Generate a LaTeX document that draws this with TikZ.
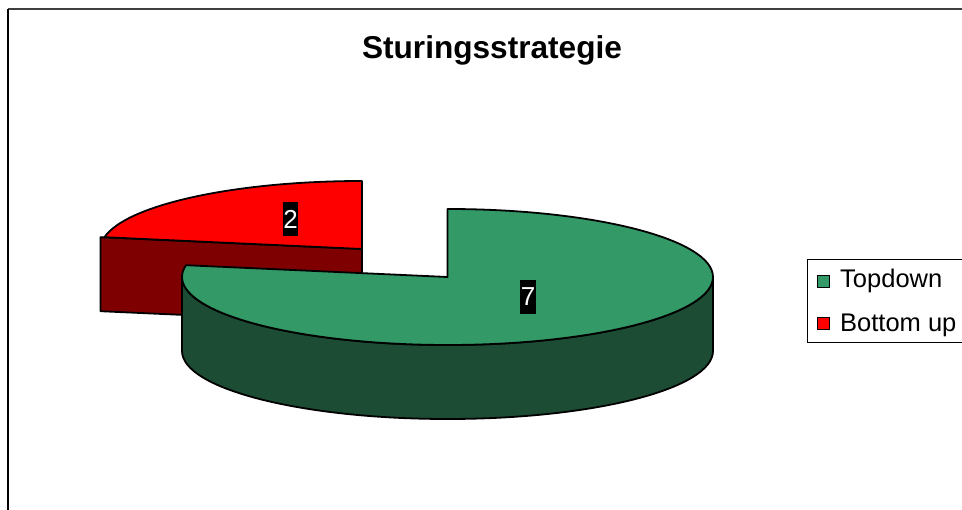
\documentclass[tikz,border=0pt]{standalone}
\usepackage{fontspec}
\setmainfont{Liberation Sans}
\definecolor{gtop}{HTML}{339966}
\definecolor{gside}{HTML}{1C4C33}
\definecolor{rtop}{HTML}{FF0000}
\definecolor{rside}{HTML}{7F0000}
\tikzset{
  pieedge/.style={draw=black, line width=1.8pt, line join=round},
  vallabel/.style={fill=black, text=white, inner xsep=0.5pt, inner ysep=0pt, minimum height=34pt,
    font=\fontsize{26}{30}\selectfont},
  legsq/.style={draw=black, line width=1pt, minimum width=12pt, minimum height=12pt, inner sep=0pt},
  legtext/.style={anchor=base west, inner sep=0pt, font=\fontsize{25.5}{30}\selectfont}
}
\begin{document}
\begin{tikzpicture}[x=1pt,y=1pt]
\useasboundingbox (0,0) rectangle (962,-510);
\clip (0,0) rectangle (962,-510);
% frame
\draw[line width=2pt, draw=black!75] (8,-9.5) -- (970,-9.5);
\draw[line width=1.4pt, draw=black] (8,-9) -- (8,-515);
% title
\node[anchor=base, inner sep=0pt, font=\bfseries\fontsize{31.6}{37}\selectfont] (title) at (492,-59) {Sturingsstrategie};
% red slice (exploded)
\coordinate (rc) at (362,-249);
\coordinate (rtopp) at (362,-181);
\coordinate (rleft) at (100.5,-237.2);
\coordinate (rcb) at (362,-323);
\coordinate (rleftb) at (100.5,-311.2);
\filldraw[pieedge, fill=rside] (rleft) -- (rc) -- (rcb) -- (rleftb) -- cycle;
\filldraw[pieedge, fill=rtop] (rc) -- (rtopp) arc[start angle=90, end angle=170, x radius=261.5, y radius=68] -- cycle;
% green slice
\coordinate (gc) at (447.5,-277);
\coordinate (gtopp) at (447.5,-209);
\coordinate (gl) at (182,-277);
\coordinate (gr) at (713,-277);
\coordinate (grb) at (713,-351);
\filldraw[pieedge, fill=gside] (gl) arc[start angle=180, end angle=360, x radius=265.5, y radius=68]
  -- (grb) arc[start angle=0, end angle=-180, x radius=265.5, y radius=68] -- cycle;
\filldraw[pieedge, fill=gtop] (gc) -- (gtopp) arc[start angle=90, end angle=-190, x radius=265.5, y radius=68] -- cycle;
% value labels
\node[vallabel] (lab2) at (290.5,-219) {2};
\node[vallabel] (lab7) at (528,-297) {7};
% legend
\draw[line width=1pt, draw=black] (807,-260) rectangle (980,-343);
\node[legsq, fill=gtop] (sq1) at (823.5,-282) {};
\node[legsq, fill=rtop] (sq2) at (823.5,-324) {};
\node[legtext] (t1) at (840,-288) {Topdown};
\node[legtext] (t2) at (840,-332) {Bottom up};
\end{tikzpicture}
\end{document}
